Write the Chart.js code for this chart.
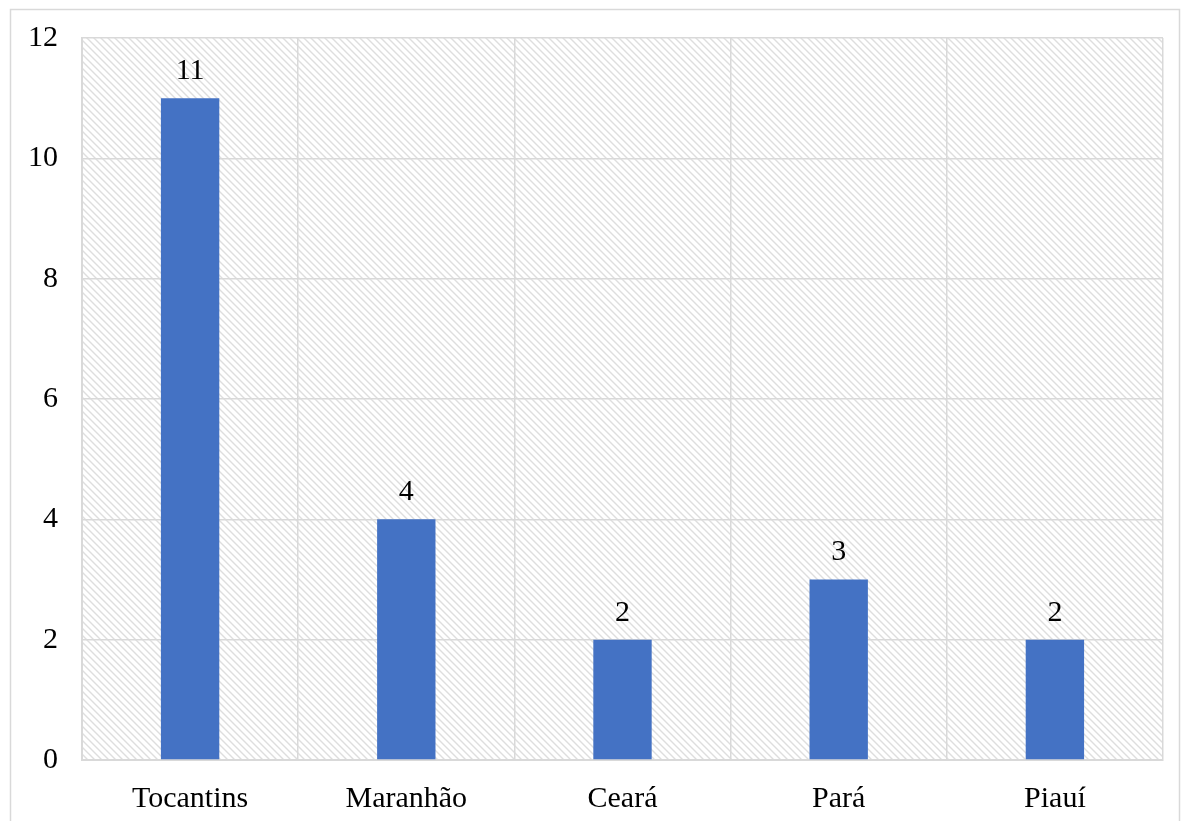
<!DOCTYPE html>
<html>
<head>
<meta charset="utf-8">
<script src="https://cdn.jsdelivr.net/npm/chart.js@4"></script>
<style>
  html, body { margin: 0; padding: 0; background: #ffffff; }
  #wrap { width: 1181px; height: 821px; position: relative; }
</style>
</head>
<body>
<div id="wrap"><canvas id="c" width="1181" height="821"></canvas></div>
<script>
const categories = ["Tocantins", "Maranhão", "Ceará", "Pará", "Piauí"];
const values = [11, 4, 2, 3, 2];
const yTicks = [0, 2, 4, 6, 8, 10, 12];

const FONT = '"Liberation Serif", "Times New Roman", serif';

function makeHatch() {
  const s = 7;
  const t = document.createElement('canvas');
  t.width = s; t.height = s;
  const g = t.getContext('2d');
  g.fillStyle = '#ffffff';
  g.fillRect(0, 0, s, s);
  g.strokeStyle = '#dedede';
  g.lineWidth = 1.4;
  g.beginPath();
  g.moveTo(-1, -1); g.lineTo(s + 1, s + 1);
  g.moveTo(-1, s - 1); g.lineTo(1, s + 1);
  g.moveTo(s - 1, -1); g.lineTo(s + 1, 1);
  g.stroke();
  return g.createPattern(t, 'repeat');
}

const bgPlugin = {
  id: 'bg',
  beforeDraw(chart) {
    const ctx = chart.ctx;
    const a = chart.chartArea;
    ctx.save();
    ctx.fillStyle = '#ffffff';
    ctx.fillRect(0, 0, chart.width, chart.height);
    ctx.strokeStyle = '#d9d9d9';
    ctx.lineWidth = 1.5;
    ctx.strokeRect(10.5, 9.5, chart.width - 12, chart.height + 10);
    ctx.fillStyle = makeHatch();
    ctx.fillRect(a.left, a.top, a.right - a.left, a.bottom - a.top);
    ctx.restore();
  },
  afterDatasetsDraw(chart) {
    const ctx = chart.ctx;
    const meta = chart.getDatasetMeta(0);
    ctx.save();
    ctx.font = '30px ' + FONT;
    ctx.fillStyle = '#000000';
    ctx.textAlign = 'center';
    ctx.textBaseline = 'middle';
    meta.data.forEach((bar, i) => {
      ctx.fillText(String(chart.data.datasets[0].data[i]), bar.x, bar.y - 27);
    });
    ctx.restore();
  }
};

new Chart(document.getElementById('c'), {
  type: 'bar',
  data: {
    labels: categories,
    datasets: [{
      data: values,
      backgroundColor: '#4472c4',
      borderWidth: 0,
      categoryPercentage: 1.0,
      barPercentage: 0.27
    }]
  },
  options: {
    responsive: false,
    animation: false,
    devicePixelRatio: 1,
    layout: { padding: { left: 0, top: 38, right: 18, bottom: 0 } },
    plugins: { legend: { display: false }, tooltip: { enabled: false } },
    scales: {
      x: {
        grid: { display: true, offset: true, color: '#d9d9d9', lineWidth: 1.5, drawTicks: false },
        border: { display: true, color: '#d9d9d9', width: 2 },
        ticks: {
          color: '#000000',
          padding: 21,
          font: { family: FONT, size: 30 },
          maxRotation: 0
        },
        afterFit(scale) { scale.height = 61; }
      },
      y: {
        min: 0,
        max: 12,
        afterBuildTicks(scale) { scale.ticks = yTicks.map(v => ({ value: v })); },
        grid: { color: '#d9d9d9', lineWidth: 1.5, drawTicks: false },
        border: { display: true, color: '#d9d9d9', width: 2 },
        ticks: {
          color: '#000000',
          padding: 24,
          font: { family: FONT, size: 30 }
        },
        afterFit(scale) { scale.width = 82; scale.paddingTop = 0; scale.paddingBottom = 0; }
      }
    }
  },
  plugins: [bgPlugin]
});
</script>
</body>
</html>
